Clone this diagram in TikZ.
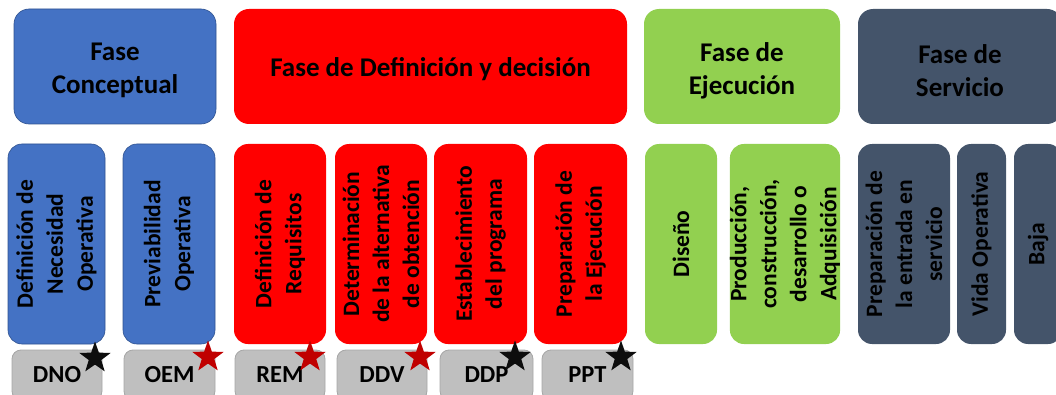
\documentclass[tikz,border=0pt]{standalone}
\usepackage{fontspec}
\setmainfont{Carlito}
\usetikzlibrary{shapes.geometric}

\definecolor{cBlue}{HTML}{4472C4}
\definecolor{cBlueLine}{HTML}{2F528F}
\definecolor{cRed}{HTML}{FF0000}
\definecolor{cGreen}{HTML}{92D050}
\definecolor{cSlate}{HTML}{44546A}
\definecolor{cTag}{HTML}{BFBFBF}
\definecolor{cTagLine}{HTML}{A6A6A6}
\definecolor{cStarRed}{HTML}{C00000}
\definecolor{cStarBlack}{HTML}{0D0D0D}

\tikzset{
  x=1pt, y=1pt,
  phase/.style={rounded corners=15pt, inner sep=0pt, minimum height=115pt},
  phasetext/.style={inner sep=0pt, align=center,
    font=\fontsize{27}{33}\selectfont\bfseries},
  stage/.style={rounded corners=14pt, inner sep=0pt, align=center, rotate=90,
    minimum width=200pt, font=\fontsize{23.5}{30}\selectfont\bfseries},
  tagbox/.style={rounded corners=9pt, inner sep=0pt, fill=cTag, draw=cTagLine,
    line width=0.8pt, minimum height=50pt,
    font=\fontsize{24.5}{28}\selectfont\bfseries},
  mstar/.style={star, star points=5, star point ratio=2.5, minimum size=33pt,
    inner sep=0pt},
  blue/.style={fill=cBlue, draw=cBlueLine, line width=0.6pt},
  red/.style={fill=cRed},
  green/.style={fill=cGreen},
  slate/.style={fill=cSlate, text=black},
}

\begin{document}
\begin{tikzpicture}
\useasboundingbox (0,0) rectangle (1056,394);
\clip (0,0) rectangle (1056,394);

% phase headers
\node[phase, blue,  minimum width=202pt] (fc) at (115,327.5) {};
\node[phase, red,   minimum width=393pt] (fd) at (430.5,327.5) {};
\node[phase, green, minimum width=196pt] (fe) at (742,327.5) {};
\node[phase, slate, minimum width=204pt] (fs) at (960,327.5) {};
\node[phasetext] (fcl) at ([yshift=-4pt]fc.center) {Fase\\Conceptual};
\node[phasetext] (fdl) at ([yshift=-3pt]fd.center) {Fase de Definición y decisión};
\node[phasetext] (fel) at ([yshift=-4pt]fe.center) {Fase de\\Ejecución};
\node[phasetext] (fsl) at ([yshift=-4pt]fs.center) {Fase de\\Servicio};

% stages, text reading upwards
\node[stage, blue,  minimum height=97pt]  (s1)  at (56.5,150) {Definición de\\Necesidad\\Operativa};
\node[stage, blue,  minimum height=92pt]  (s2)  at (169,150)  {Previabilidad\\Operativa};
\node[stage, red,   minimum height=92pt]  (s3)  at (280,150)  {Definición de\\Requisitos};
\node[stage, red,   minimum height=92pt]  (s4)  at (381,150)  {Determinación\\de la alternativa\\de obtención};
\node[stage, red,   minimum height=93pt]  (s5)  at (480.5,150) {Establecimiento\\del programa};
\node[stage, red,   minimum height=93pt]  (s6)  at (580.5,150) {Preparación de\\la Ejecución};
\node[stage, green, minimum height=72pt]  (s7)  at (681,150)  {Diseño};
\node[stage, green, minimum height=110pt] (s8)  at (785,150)  {Producción,\\construcción,\\desarrollo o\\Adquisición};
\node[stage, slate, minimum height=92pt]  (s9)  at (904,150)  {Preparación de\\la entrada en\\servicio};
\node[stage, slate, minimum height=49pt]  (s10) at (981.5,150) {Vida Operativa};
\node[stage, slate, minimum height=48pt]  (s11) at (1038,150) {Baja};

% milestone tags
\node[tagbox, minimum width=90pt] (t1) at (57,19)    {DNO};
\node[tagbox, minimum width=91pt] (t2) at (169.5,19) {OEM};
\node[tagbox, minimum width=90pt] (t3) at (280,19)   {REM};
\node[tagbox, minimum width=90pt] (t4) at (382,19)   {DDV};
\node[tagbox, minimum width=93pt] (t5) at (486.5,19) {DDP};
\node[tagbox, minimum width=91pt] (t6) at (587.5,19) {PPT};

% milestone stars
\node[mstar, fill=cStarBlack] (k1) at (95,36)  {};
\node[mstar, fill=cStarRed]   (k2) at (208,37) {};
\node[mstar, fill=cStarRed]   (k3) at (310,37) {};
\node[mstar, fill=cStarRed]   (k4) at (420,37) {};
\node[mstar, fill=cStarBlack] (k5) at (515,37) {};
\node[mstar, fill=cStarBlack] (k6) at (621,37) {};
\end{tikzpicture}
\end{document}
